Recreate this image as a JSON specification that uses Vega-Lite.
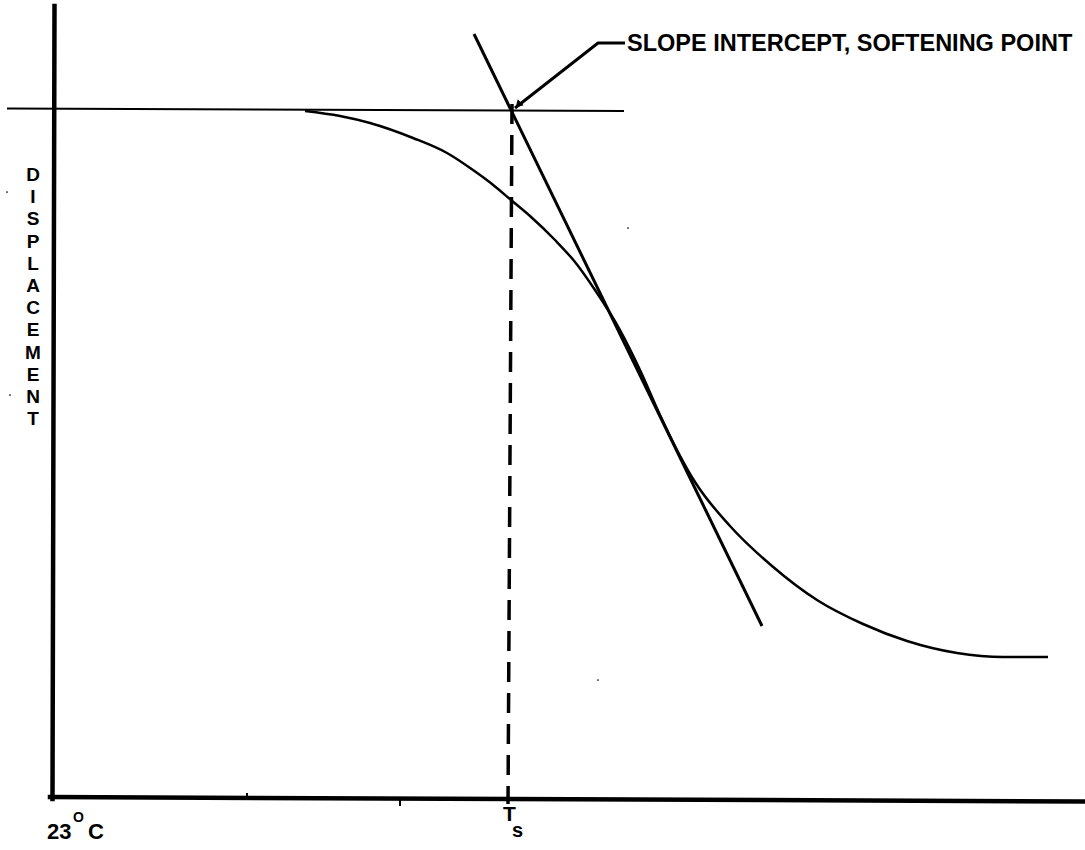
{
  "$schema": "https://vega.github.io/schema/vega-lite/v6.json",
  "width": 1085,
  "height": 850,
  "padding": 0,
  "autosize": {"type": "none"},
  "background": "white",
  "config": {"view": {"stroke": null}},
  "datasets": {
    "frame": [
      {"seg": "yaxis", "o": 1, "x": 54.5, "y": 6},
      {"seg": "yaxis", "o": 2, "x": 52.5, "y": 799},
      {"seg": "xaxis", "o": 1, "x": 50, "y": 797},
      {"seg": "xaxis", "o": 2, "x": 1085, "y": 801.5}
    ],
    "thin": [
      {"seg": "base", "o": 1, "x": 7, "y": 108.5},
      {"seg": "base", "o": 2, "x": 624, "y": 111},
      {"seg": "tick1", "o": 1, "x": 247, "y": 793},
      {"seg": "tick1", "o": 2, "x": 247, "y": 798},
      {"seg": "tick2", "o": 1, "x": 400, "y": 800},
      {"seg": "tick2", "o": 2, "x": 400, "y": 806}
    ],
    "curve": [
      {"o": 1, "x": 305, "y": 111},
      {"o": 2, "x": 340, "y": 116},
      {"o": 3, "x": 370, "y": 123},
      {"o": 4, "x": 413, "y": 138},
      {"o": 5, "x": 447, "y": 153},
      {"o": 6, "x": 473, "y": 170},
      {"o": 7, "x": 492, "y": 184},
      {"o": 8, "x": 511, "y": 200},
      {"o": 9, "x": 530, "y": 216},
      {"o": 10, "x": 555, "y": 240},
      {"o": 11, "x": 575, "y": 262},
      {"o": 12, "x": 595, "y": 290},
      {"o": 13, "x": 620, "y": 330},
      {"o": 14, "x": 640, "y": 370},
      {"o": 15, "x": 660, "y": 415},
      {"o": 16, "x": 678, "y": 452},
      {"o": 17, "x": 695, "y": 482},
      {"o": 18, "x": 730, "y": 526},
      {"o": 19, "x": 772, "y": 566},
      {"o": 20, "x": 817, "y": 600},
      {"o": 21, "x": 863, "y": 624},
      {"o": 22, "x": 907, "y": 641},
      {"o": 23, "x": 957, "y": 653},
      {"o": 24, "x": 1003, "y": 657},
      {"o": 25, "x": 1048, "y": 657}
    ],
    "tangent": [
      {"o": 1, "x": 474, "y": 34},
      {"o": 2, "x": 762, "y": 626}
    ],
    "leader": [
      {"o": 1, "x": 515, "y": 108},
      {"o": 2, "x": 598, "y": 43},
      {"o": 3, "x": 625, "y": 43}
    ],
    "dashed": [
      {"o": 1, "x": 512, "y": 104},
      {"o": 2, "x": 508, "y": 804}
    ],
    "arrow": [
      {"x": 519, "y": 104}
    ],
    "specks": [
      {"x": 7, "y": 192},
      {"x": 10, "y": 395},
      {"x": 628, "y": 228},
      {"x": 598, "y": 680}
    ],
    "ylabel": [
      {"t": "D", "x": 33, "y": 175},
      {"t": "I", "x": 33, "y": 197},
      {"t": "S", "x": 33, "y": 219},
      {"t": "P", "x": 33, "y": 242},
      {"t": "L", "x": 33, "y": 264},
      {"t": "A", "x": 33, "y": 286},
      {"t": "C", "x": 33, "y": 308},
      {"t": "E", "x": 33, "y": 330},
      {"t": "M", "x": 33, "y": 353},
      {"t": "E", "x": 33, "y": 375},
      {"t": "N", "x": 33, "y": 397},
      {"t": "T", "x": 33, "y": 419}
    ],
    "bigtext": [
      {"t": "SLOPE INTERCEPT, SOFTENING POINT", "x": 627, "y": 44, "s": 23.5},
      {"t": "23", "x": 47, "y": 832, "s": 22},
      {"t": "C", "x": 88, "y": 832, "s": 22},
      {"t": "T", "x": 503, "y": 815, "s": 21},
      {"t": "s", "x": 512, "y": 831, "s": 20},
      {"t": "O", "x": 73, "y": 818, "s": 14}
    ]
  },
  "encoding": {
    "x": {"field": "x", "type": "quantitative", "scale": {"domain": [0, 1085], "nice": false, "zero": false}, "axis": null},
    "y": {"field": "y", "type": "quantitative", "scale": {"domain": [0, 850], "nice": false, "zero": false, "reverse": true}, "axis": null}
  },
  "layer": [
    {
      "data": {"name": "frame"},
      "mark": {"type": "line", "color": "black", "strokeWidth": 4.5, "strokeCap": "square"},
      "encoding": {"detail": {"field": "seg"}, "order": {"field": "o", "type": "quantitative"}}
    },
    {
      "data": {"name": "thin"},
      "mark": {"type": "line", "color": "black", "strokeWidth": 2},
      "encoding": {"detail": {"field": "seg"}, "order": {"field": "o", "type": "quantitative"}}
    },
    {
      "data": {"name": "curve"},
      "mark": {"type": "line", "color": "black", "strokeWidth": 2.5, "interpolate": "monotone"},
      "encoding": {"order": {"field": "o", "type": "quantitative"}}
    },
    {
      "data": {"name": "tangent"},
      "mark": {"type": "line", "color": "black", "strokeWidth": 3},
      "encoding": {"order": {"field": "o", "type": "quantitative"}}
    },
    {
      "data": {"name": "leader"},
      "mark": {"type": "line", "color": "black", "strokeWidth": 3},
      "encoding": {"order": {"field": "o", "type": "quantitative"}}
    },
    {
      "data": {"name": "dashed"},
      "mark": {"type": "line", "color": "black", "strokeWidth": 3.5, "strokeDash": [20, 11]},
      "encoding": {"order": {"field": "o", "type": "quantitative"}}
    },
    {
      "data": {"name": "arrow"},
      "mark": {"type": "point", "shape": "triangle", "filled": true, "color": "black", "size": 70, "angle": 225, "opacity": 1}
    },
    {
      "data": {"name": "specks"},
      "mark": {"type": "point", "shape": "circle", "filled": true, "color": "black", "size": 3, "opacity": 1}
    },
    {
      "data": {"name": "ylabel"},
      "mark": {"type": "text", "font": "Liberation Sans", "fontWeight": "bold", "fontSize": 19, "align": "center", "baseline": "middle", "color": "black"},
      "encoding": {"text": {"field": "t"}}
    },
    {
      "data": {"name": "bigtext"},
      "mark": {"type": "text", "font": "Liberation Sans", "fontWeight": "bold", "align": "left", "baseline": "middle", "color": "black"},
      "encoding": {"text": {"field": "t"}, "size": {"field": "s", "type": "quantitative", "scale": null}}
    }
  ]
}
